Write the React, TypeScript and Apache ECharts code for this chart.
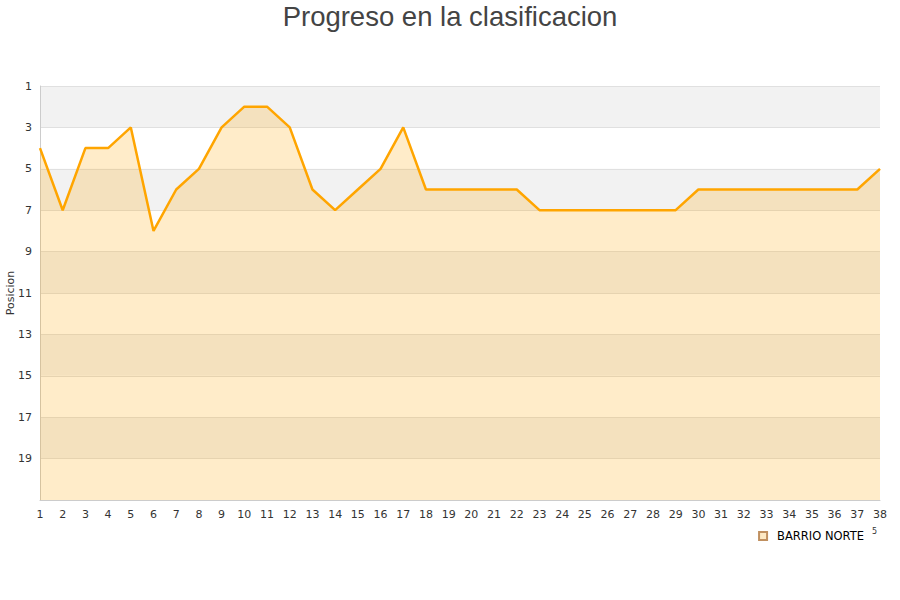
import React, { useEffect, useRef } from "react";
import * as echarts from "echarts";

const rounds = Array.from({ length: 38 }, (_, i) => String(i + 1));
const positions = [4, 7, 4, 4, 3, 8, 6, 5, 3, 2, 2, 3, 6, 7, 6, 5, 3, 6, 6, 6, 6, 6, 7, 7, 7, 7, 7, 7, 7, 6, 6, 6, 6, 6, 6, 6, 6, 5];
const seriesName = "BARRIO NORTE";
const titleText = "Progreso en la clasificacion";
const yName = "Posicion";

export default function App() {
  const ref = useRef<HTMLDivElement>(null);
  useEffect(() => {
    const chart = echarts.init(ref.current!, null, { renderer: "svg" });
    chart.setOption({
      animation: false,
      title: {
        text: titleText,
        left: "center",
        top: -3,
        textStyle: { fontFamily: "Liberation Sans", fontSize: 27.5, fontWeight: "normal", color: "#444" },
      },
      legend: {
        data: [seriesName],
        right: 31,
        top: 525,
        icon: "rect",
        itemWidth: 8,
        itemHeight: 8,
        itemGap: 6,
        textStyle: { fontFamily: "DejaVu Sans", fontSize: 11.5, color: "#000", padding: [0, 0, 0, 5] },
      },
      grid: { left: 40, right: 20, top: 86, bottom: 100, containLabel: false, outerBoundsMode: "none" },
      xAxis: {
        type: "category",
        data: rounds,
        boundaryGap: false,
        axisLine: { lineStyle: { color: "#ccc" } },
        axisTick: { show: false },
        axisLabel: { fontFamily: "DejaVu Sans", fontSize: 11, color: "#333", margin: 9, interval: 0 },
      },
      yAxis: {
        type: "value",
        inverse: true,
        min: 1,
        max: 21,
        interval: 2,
        axisLine: { show: true, lineStyle: { color: "#ccc" } },
        axisTick: { show: false },
        axisLabel: { fontFamily: "DejaVu Sans", fontSize: 11, color: "#333", margin: 8, showMaxLabel: false },
        splitLine: { lineStyle: { color: "#e0e0e0" } },
        splitArea: { show: true, areaStyle: { color: ["#f2f2f2", "#ffffff"] } },
      },
      series: [
        {
          name: seriesName,
          type: "line",
          data: positions,
          smooth: false,
          symbol: "none",
          lineStyle: { color: "#ffa500", width: 2.5 },
          itemStyle: { color: "#fde9c4", borderColor: "#c09060", borderWidth: 1 },
          areaStyle: { color: "rgba(255,165,0,0.21)", opacity: 1, origin: "end" },
        },
      ],
      graphic: [
        {
          type: "text",
          x: 10,
          y: 293,
          rotation: Math.PI / 2,
          style: { text: yName, fontSize: 11, fill: "#333", fontFamily: "DejaVu Sans", align: "center", verticalAlign: "middle" },
        },
        { type: "text", left: 872, top: 527, style: { text: "5", fontSize: 8, fill: "#333", fontFamily: "DejaVu Sans" } },
      ],
    });
    return () => chart.dispose();
  }, []);
  return <div ref={ref} style={{ width: 900, height: 600, position: "absolute", left: 0, top: 0 }} />;
}
